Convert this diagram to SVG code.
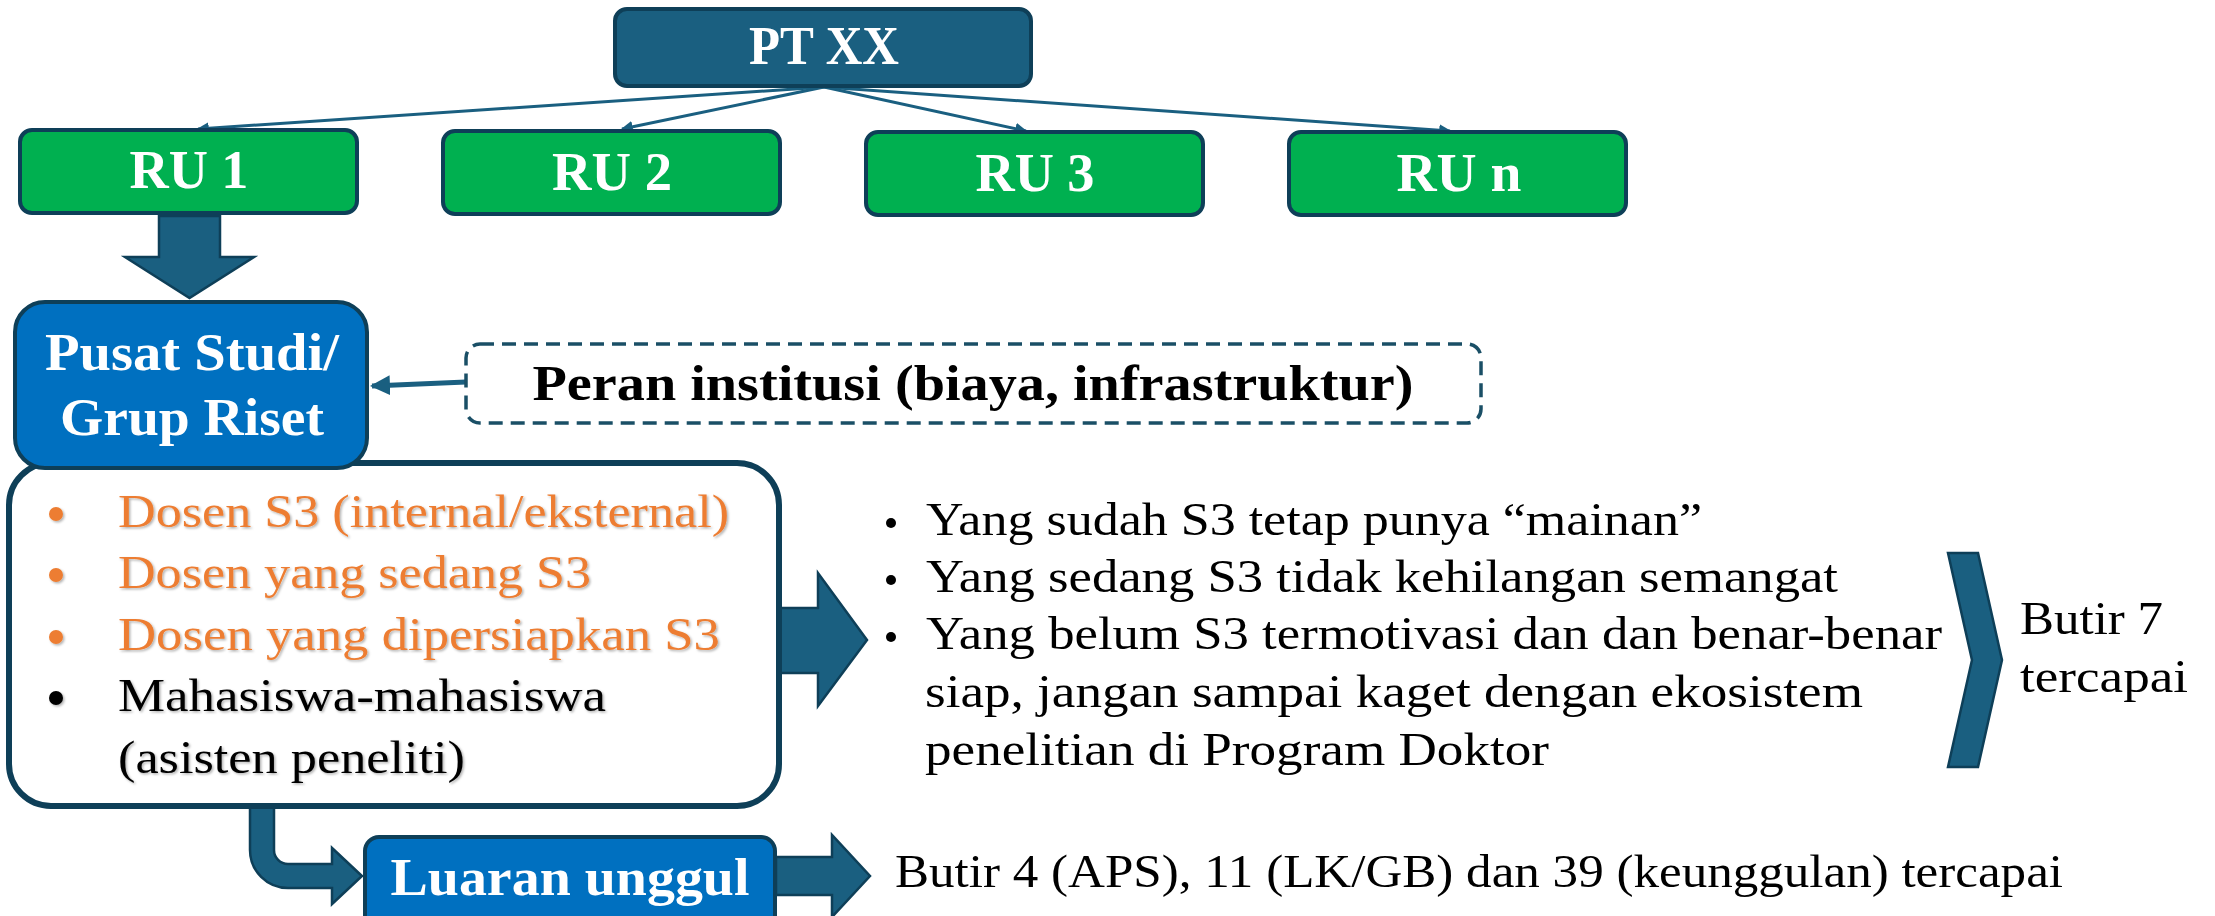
<svg xmlns="http://www.w3.org/2000/svg" width="2215" height="916" viewBox="0 0 2215 916">
<defs>
<style>
.box{stroke:#0e3f58;stroke-width:4}
.teal{fill:#1a5f80}
.green{fill:#00b050}
.blue{fill:#0070c0}
.arrow{fill:#1a5f80;stroke:#0e3f58;stroke-width:2.5;stroke-linejoin:miter}
.conn{stroke:#1a5f80;stroke-width:3;fill:none}
.tw{font-family:"Liberation Serif",serif;font-weight:bold;fill:#fff;text-anchor:middle}
.tb{font-family:"Liberation Serif",serif;fill:#000}
.orange{fill:#ed7d31}
.sh{filter:url(#shadow)}
</style>
<marker id="ah" viewBox="0 0 10 10" refX="9" refY="5" markerWidth="4" markerHeight="4" orient="auto" markerUnits="strokeWidth">
<path d="M0,0 L10,5 L0,10 Z" fill="#1a5f80"/>
</marker>
<filter id="shadow" x="-5%" y="-20%" width="110%" height="140%">
<feDropShadow dx="1.5" dy="1.5" stdDeviation="1" flood-color="#000" flood-opacity="0.3"/>
</filter>
</defs>

<g id="connectors">
<line class="conn" x1="824" y1="87" x2="198" y2="129" marker-end="url(#ah)"/>
<line class="conn" x1="824" y1="87" x2="622" y2="129" marker-end="url(#ah)"/>
<line class="conn" x1="824" y1="87" x2="1026" y2="131" marker-end="url(#ah)"/>
<line class="conn" x1="824" y1="87" x2="1450" y2="131" marker-end="url(#ah)"/>
<line x1="466" y1="382" x2="372" y2="386" stroke="#1a5f80" stroke-width="5" marker-end="url(#ah)"/>
<polygon class="arrow" points="159,216 220,216 220,257 254,257 189.5,298 125,257 159,257"/>
<polygon class="arrow" points="772,608 818,608 818,573 867,640 818,706 818,673 772,673"/>
<path class="arrow" d="M250,800 L250,850 A38,38 0 0 0 288,888 L332,888 L332,904 L362,876 L332,848 L332,864 L288,864 A14,14 0 0 1 274,850 L274,800 Z"/>
<polygon class="arrow" points="776,857 832,857 832,835 870,876 832,917 832,895 776,895"/>
</g>

<g id="pt-xx">
<rect class="box teal" x="615" y="9" width="416" height="77" rx="12"/>
<text class="tw" x="824" y="64" font-size="54" textLength="150" lengthAdjust="spacingAndGlyphs">PT XX</text>
</g>

<g id="ru1">
<rect class="box green" x="20" y="130" width="337" height="83" rx="12"/>
<text class="tw" x="189" y="188" font-size="55" textLength="119" lengthAdjust="spacingAndGlyphs">RU 1</text>
</g>
<g id="ru2">
<rect class="box green" x="443" y="131" width="337" height="83" rx="12"/>
<text class="tw" x="612" y="190" font-size="55" textLength="120" lengthAdjust="spacingAndGlyphs">RU 2</text>
</g>
<g id="ru3">
<rect class="box green" x="866" y="132" width="337" height="83" rx="12"/>
<text class="tw" x="1035" y="191" font-size="55" textLength="119" lengthAdjust="spacingAndGlyphs">RU 3</text>
</g>
<g id="run">
<rect class="box green" x="1289" y="132" width="337" height="83" rx="12"/>
<text class="tw" x="1459" y="191" font-size="55" textLength="125" lengthAdjust="spacingAndGlyphs">RU n</text>
</g>

<g id="peran">
<rect x="466" y="344" width="1015" height="79" rx="14" fill="#fff" stroke="#1a4f66" stroke-width="3.5" stroke-dasharray="14 8"/>
<text class="tb" x="973" y="400" font-size="50" font-weight="bold" text-anchor="middle" textLength="881" lengthAdjust="spacingAndGlyphs">Peran institusi (biaya, infrastruktur)</text>
</g>

<g id="anggota">
<rect x="9" y="463" width="770" height="343" rx="42" fill="#fff" stroke="#0e3f58" stroke-width="6"/>
<g class="sh">
<circle class="orange" cx="56" cy="514" r="7"/>
<text class="tb orange" x="118" y="527" font-size="46" textLength="611" lengthAdjust="spacingAndGlyphs">Dosen S3 (internal/eksternal)</text>
<circle class="orange" cx="56" cy="575" r="7"/>
<text class="tb orange" x="118" y="588" font-size="46" textLength="473" lengthAdjust="spacingAndGlyphs">Dosen yang sedang S3</text>
<circle class="orange" cx="56" cy="637" r="7"/>
<text class="tb orange" x="118" y="650" font-size="46" textLength="602" lengthAdjust="spacingAndGlyphs">Dosen yang dipersiapkan S3</text>
<circle cx="56" cy="698" r="7" fill="#000"/>
<text class="tb" x="118" y="711" font-size="46" textLength="488" lengthAdjust="spacingAndGlyphs">Mahasiswa-mahasiswa</text>
<text class="tb" x="118" y="773" font-size="46" textLength="347" lengthAdjust="spacingAndGlyphs">(asisten peneliti)</text>
</g>
</g>

<g id="pusat">
<rect class="box blue" x="15" y="302" width="352" height="166" rx="30"/>
<text class="tw" x="192" y="370" font-size="53" textLength="294" lengthAdjust="spacingAndGlyphs">Pusat Studi/</text>
<text class="tw" x="192" y="435" font-size="53" textLength="264" lengthAdjust="spacingAndGlyphs">Grup Riset</text>
</g>

<g id="dampak">
<circle cx="891" cy="523" r="5" fill="#000"/>
<text class="tb" x="926" y="535" font-size="46" textLength="776" lengthAdjust="spacingAndGlyphs">Yang sudah S3 tetap punya “mainan”</text>
<circle cx="891" cy="580" r="5" fill="#000"/>
<text class="tb" x="926" y="592" font-size="46" textLength="912" lengthAdjust="spacingAndGlyphs">Yang sedang S3 tidak kehilangan semangat</text>
<circle cx="891" cy="637" r="5" fill="#000"/>
<text class="tb" x="926" y="649" font-size="46" textLength="1016" lengthAdjust="spacingAndGlyphs">Yang belum S3 termotivasi dan dan benar-benar</text>
<text class="tb" x="925" y="707" font-size="46" textLength="938" lengthAdjust="spacingAndGlyphs">siap, jangan sampai kaget dengan ekosistem</text>
<text class="tb" x="925" y="765" font-size="46" textLength="624" lengthAdjust="spacingAndGlyphs">penelitian di Program Doktor</text>
</g>

<g id="butir7">
<polygon class="arrow" points="1948,553 1978,553 2002,660 1978,767 1948,767 1972,660"/>
<text class="tb" x="2020" y="634" font-size="46" textLength="143" lengthAdjust="spacingAndGlyphs">Butir 7</text>
<text class="tb" x="2020" y="692" font-size="46" textLength="168" lengthAdjust="spacingAndGlyphs">tercapai</text>
</g>

<g id="luaran">
<rect class="box blue" x="365" y="837" width="410" height="95" rx="14"/>
<text class="tw" x="570" y="895" font-size="53" textLength="359" lengthAdjust="spacingAndGlyphs">Luaran unggul</text>
</g>

<g id="butir4">
<text class="tb" x="895" y="887" font-size="46" textLength="1168" lengthAdjust="spacingAndGlyphs">Butir 4 (APS), 11 (LK/GB) dan 39 (keunggulan) tercapai</text>
</g>
</svg>
